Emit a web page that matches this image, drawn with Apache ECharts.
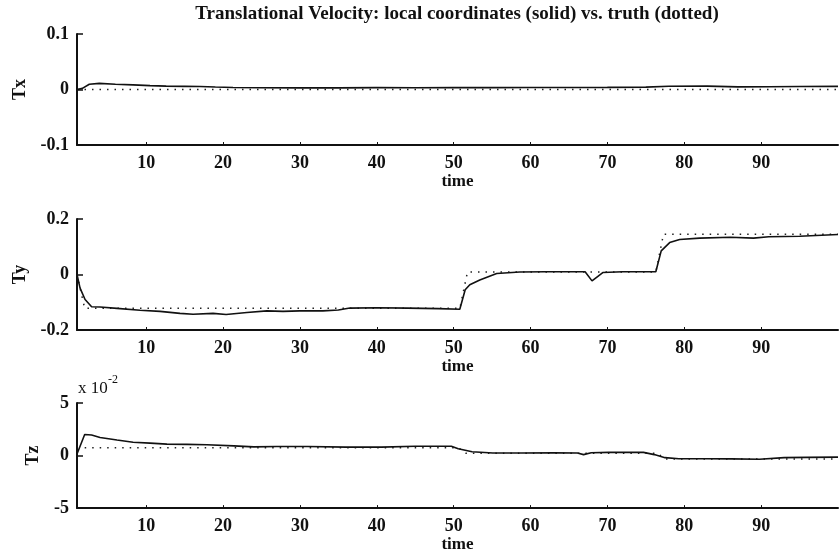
<!DOCTYPE html>
<html>
<head>
<meta charset="utf-8">
<title>Translational Velocity</title>
<script src="https://cdn.jsdelivr.net/npm/echarts@6/dist/echarts.min.js"></script>
<style>
  html, body { margin: 0; padding: 0; background: #fff; }
  #chart { width: 840px; height: 554px; }
</style>
</head>
<body>
<div id="chart"></div>
<script>
// x axis tick labels (time)
var timeTicks = [10, 20, 30, 40, 50, 60, 70, 80, 90];

// Tx: local coordinates (solid) and truth (dotted)
var txTime = [1, 1.7, 2.6, 3.9, 6, 8.3, 10.5, 12.6, 15, 17, 19, 21.3, 25, 30, 35, 40, 45, 50, 55, 60, 65, 70, 75, 78, 83, 87, 91, 95, 100];
var txSolid = [0, 0.002, 0.0095, 0.011, 0.0095, 0.0083, 0.007, 0.006, 0.0057, 0.0054, 0.0045, 0.0036, 0.0032, 0.0029, 0.003, 0.0033, 0.0032, 0.0035, 0.0034, 0.0036, 0.0037, 0.0038, 0.0042, 0.0058, 0.006, 0.0048, 0.005, 0.0055, 0.0057];
var txTruthTime = [1, 100];
var txTruth = [0, 0];

// Ty
var tyTime = [1, 1.4, 2.05, 2.9, 4, 6.2, 9.2, 11.8, 14.4, 16.1, 18.7, 20.4, 23.1, 25.7, 27.8, 30, 33, 35, 36.5, 40, 44, 48, 50.8, 51.5, 52.1, 53.4, 55.6, 58.6, 62, 67.1, 68, 69.4, 72, 76.3, 77, 78.1, 79.4, 82, 86, 89, 91, 95, 100];
var tySolid = [0, -0.049, -0.09, -0.116, -0.117, -0.122, -0.129, -0.133, -0.14, -0.143, -0.14, -0.144, -0.137, -0.131, -0.133, -0.131, -0.131, -0.128, -0.121, -0.12, -0.121, -0.123, -0.125, -0.055, -0.037, -0.02, 0.0035, 0.009, 0.01, 0.01, -0.023, 0.007, 0.01, 0.01, 0.085, 0.115, 0.126, 0.131, 0.134, 0.131, 0.136, 0.138, 0.144];
var tyTruthTime = [1, 2, 50.8, 51.8, 76.3, 77.3, 100];
var tyTruth = [0, -0.122, -0.122, 0.009, 0.009, 0.145, 0.145];

// Tz (values in units of 1e-2)
var tzTime = [1, 2, 2.9, 4, 6.2, 8.3, 10.5, 12.7, 15.3, 17.9, 21.4, 24, 27, 31, 36, 40.6, 45, 49.7, 50.6, 52.4, 55.1, 58.8, 63, 66.1, 66.9, 67.9, 70.2, 74.7, 76.1, 77.5, 79.3, 83, 86.1, 89.8, 93, 96, 100];
var tzSolid = [0.15, 2.0, 1.96, 1.72, 1.48, 1.27, 1.18, 1.09, 1.06, 1.03, 0.92, 0.83, 0.86, 0.86, 0.8, 0.8, 0.89, 0.89, 0.65, 0.36, 0.24, 0.24, 0.25, 0.24, 0.09, 0.26, 0.3, 0.3, 0.09, -0.2, -0.3, -0.31, -0.32, -0.35, -0.2, -0.17, -0.15];
var tzTruthTime = [2, 50.6, 51.6, 76.5, 77.5, 100];
var tzTruth = [0.75, 0.75, 0.22, 0.22, -0.32, -0.32];

function zip(xs, ys) {
    var out = [];
    for (var i = 0; i < xs.length; i++) out.push([xs[i], ys[i]]);
    return out;
}

var font = 'Liberation Serif';
var ink = '#111';

function makeX(idx) {
    return {
        type: 'value', gridIndex: idx, min: 1, max: 100,
        name: 'time', nameLocation: 'middle', nameGap: 27,
        nameTextStyle: { fontFamily: font, fontSize: 17, fontWeight: 'bold', color: ink },
        axisLine: { onZero: false, lineStyle: { color: ink, width: 2 } },
        axisTick: { inside: true, length: 3, customValues: timeTicks, lineStyle: { color: ink } },
        axisLabel: { customValues: timeTicks, margin: 9, fontFamily: font, fontSize: 18, fontWeight: 'bold', color: ink },
        splitLine: { show: false }
    };
}

function makeY(idx, name, lim, gap, fmt) {
    return {
        type: 'value', gridIndex: idx, min: -lim, max: lim, interval: lim,
        name: name, nameLocation: 'middle', nameRotate: 90, nameGap: gap,
        nameTextStyle: { fontFamily: font, fontSize: 18, fontWeight: 'bold', color: ink },
        axisLine: { show: true, onZero: false, lineStyle: { color: ink, width: 2 } },
        axisTick: { inside: true, length: 6, lineStyle: { color: ink, width: 1.5 } },
        axisLabel: { margin: 8, fontFamily: font, fontSize: 18, fontWeight: 'bold', color: ink, formatter: fmt },
        splitLine: { show: false }
    };
}

function solid(idx, data) {
    return {
        type: 'line', xAxisIndex: idx, yAxisIndex: idx, data: data,
        showSymbol: false, silent: true,
        lineStyle: { color: ink, width: 1.6 }
    };
}

function dotted(idx, data) {
    return {
        type: 'line', xAxisIndex: idx, yAxisIndex: idx, data: data,
        showSymbol: false, silent: true,
        lineStyle: { color: '#222', width: 1.5, type: [1.5, 6] }
    };
}

var myChart = echarts.init(document.getElementById('chart'));
var option = {
    backgroundColor: '#fff',
    animation: false,
    graphic: [
        {
            type: 'text', x: 457, y: 14,
            style: {
                text: 'Translational Velocity: local coordinates (solid) vs. truth (dotted)',
                fontFamily: font, fontSize: 19, fontWeight: 'bold', fill: ink,
                textAlign: 'center', textVerticalAlign: 'middle'
            }
        },
        {
            type: 'text', x: 78, y: 389,
            style: { text: 'x 10', fontFamily: font, fontSize: 17, fill: ink, textVerticalAlign: 'middle' }
        },
        {
            type: 'text', x: 108, y: 380,
            style: { text: '-2', fontFamily: font, fontSize: 12, fill: ink, textVerticalAlign: 'middle' }
        }
    ],
    grid: [
        { left: 77, right: 2, top: 34, height: 111 },
        { left: 77, right: 2, top: 219, height: 111 },
        { left: 77, right: 2, top: 403, height: 112 }
    ],
    xAxis: [makeX(0), makeX(1), makeX(2)],
    yAxis: [
        makeY(0, 'Tx', 0.1, 47),
        makeY(1, 'Ty', 0.2, 47),
        makeY(2, 'Tz', 5, 35)
    ],
    series: [
        dotted(0, zip(txTruthTime, txTruth)),
        solid(0, zip(txTime, txSolid)),
        dotted(1, zip(tyTruthTime, tyTruth)),
        solid(1, zip(tyTime, tySolid)),
        dotted(2, zip(tzTruthTime, tzTruth)),
        solid(2, zip(tzTime, tzSolid))
    ]
};
myChart.setOption(option);
</script>
</body>
</html>
